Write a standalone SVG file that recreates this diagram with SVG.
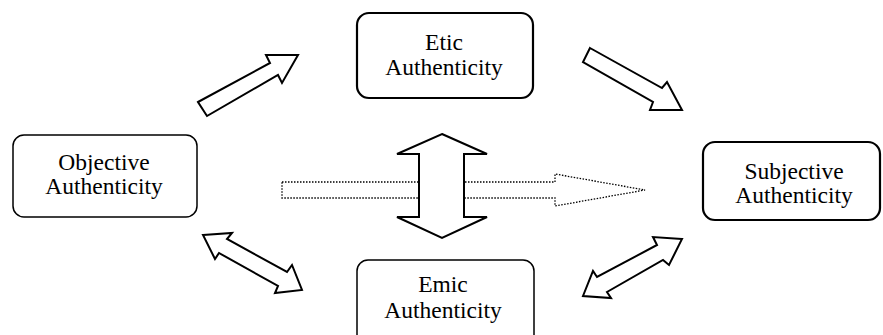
<svg xmlns="http://www.w3.org/2000/svg" width="883" height="335" viewBox="0 0 883 335">
<style>
.box{fill:#fff;stroke:#000}
.thin{stroke-width:1.5}
.thick{stroke-width:2.2}
.lbl{font-family:'Liberation Serif','Times New Roman',serif;font-size:23.5px;fill:#000;text-anchor:middle}
.arr{fill:#fff;stroke:#000;stroke-width:2;stroke-linejoin:miter}
.dot{fill:none;stroke:#000;stroke-width:1.3;stroke-dasharray:1.5 1.5}
</style>
<rect width="883" height="335" fill="#fff"/>
<g id="connectors">
<polygon class="dot" points="282,182 555,182 555,174 645,190 555,206 555,198 282,198"/>
<polygon class="arr" points="442,134 487,154 464,154 464,217 487,217 442,238 397,217 419,217 419,154 397,154"/>
<polygon class="arr" points="198,102 270,63 266,55 298,55 282,83 278,75 207,116"/>
<polygon class="arr" points="590,48 662,88 667,82 682,110 650,110 653,102 583,62"/>
<polygon class="arr" points="203,235 232,233 227,239 287,272 292,265 302,290 275,293 278,286 219,253 215,259"/>
<polygon class="arr" points="682,239 653,237 657,245 597,277 593,271 583,296 611,298 607,292 663,260 669,265"/>
</g>
<g id="objective">
<rect class="box thin" x="13" y="135" width="184" height="82" rx="11"/>
<text class="lbl" x="104" y="170">Objective</text>
<text class="lbl" x="104" y="194">Authenticity</text>
</g>
<g id="etic">
<rect class="box thick" x="357" y="13" width="176" height="85" rx="12"/>
<text class="lbl" x="444" y="50">Etic</text>
<text class="lbl" x="444" y="75">Authenticity</text>
</g>
<g id="subjective">
<rect class="box thick" x="703" y="142" width="177" height="78" rx="12"/>
<text class="lbl" x="794" y="179">Subjective</text>
<text class="lbl" x="794" y="203">Authenticity</text>
</g>
<g id="emic">
<rect class="box thin" x="357" y="260" width="177" height="90" rx="11"/>
<text class="lbl" x="443" y="292">Emic</text>
<text class="lbl" x="443" y="318">Authenticity</text>
</g>
</svg>
